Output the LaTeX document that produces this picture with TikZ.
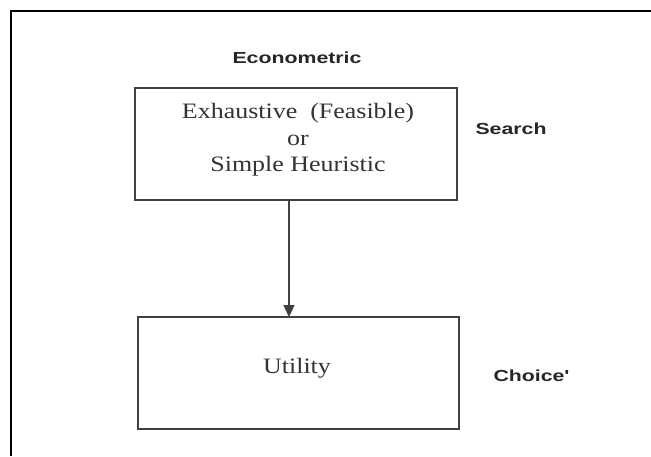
\documentclass[tikz,border=0pt]{standalone}
\usepackage{fontspec}
\setmainfont{Liberation Serif}[FakeStretch=1.18]
\newfontfamily\labelfont{Liberation Sans}[FakeStretch=1.33]
\usetikzlibrary{arrows.meta}
\begin{document}
\begin{tikzpicture}[x=1pt,y=-1pt,
  stagebox/.style={draw=black!75,line width=1.6pt,inner sep=0pt},
  boxtext/.style={font=\fontsize{22}{26.5}\selectfont,align=center,text=black!80},
  labeltext/.style={font=\labelfont\bfseries\fontsize{16}{18}\selectfont,text=black!85},
  sidelabel/.style={labeltext,anchor=west},
  link/.style={draw=black!75,line width=1.3pt,-{Triangle[length=12pt,width=11pt]}}]
  \useasboundingbox (0,0) rectangle (651,456);
  % frame: top and left rules
  \draw[line width=2.6pt] (651,11) -- (11,11) -- (11,456);
  % stage boxes
  \draw[stagebox] (135,88) rectangle (457,200);
  \draw[stagebox] (138,317) rectangle (459,429);
  \coordinate (searchbottom) at (289,200);
  \coordinate (choicetop) at (289,317);
  \node[boxtext] (search) at (298,140) {Exhaustive\ \ (Feasible)\\or\\Simple Heuristic};
  \node[boxtext] (utility) at (297,368) {Utility};
  \node[labeltext] (econ) at (297,58) {Econometric};
  \node[sidelabel] (searchlbl) at (472,129) {Search};
  \node[sidelabel] (choicelbl) at (490,376) {Choice'};
  \draw[link] (searchbottom) -- (choicetop);
\end{tikzpicture}
\end{document}
